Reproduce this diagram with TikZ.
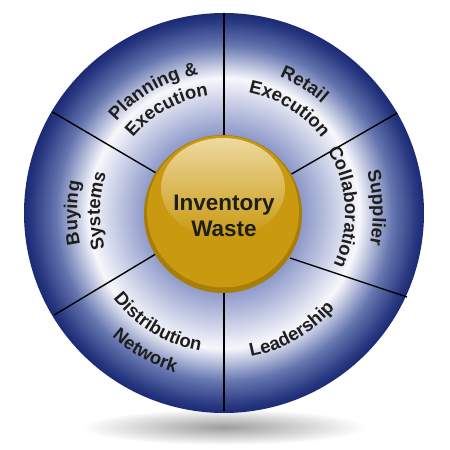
\documentclass[tikz,border=0pt]{standalone}
\usepackage{fontspec}
\setmainfont{Liberation Sans}
\usetikzlibrary{decorations.text,calc}
\definecolor{ringin}{HTML}{8E9ACA}
\definecolor{ringwhite}{HTML}{F7F8FC}
\definecolor{ringmid}{HTML}{6676B0}
\definecolor{ringdark}{HTML}{25357E}
\definecolor{ringedge}{HTML}{1A2A74}
\definecolor{golddark}{HTML}{A87D08}
\definecolor{goldmain}{HTML}{C9990F}
\definecolor{goldlight}{HTML}{EDD9A0}
\definecolor{txtc}{HTML}{1E1E1E}
\pgfdeclareradialshading{ringshade}{\pgfpoint{0bp}{0bp}}{color(0bp)=(ringin); color(9.9bp)=(ringin); color(16.9bp)=(ringwhite); color(21bp)=(ringmid); color(24.2bp)=(ringdark); color(25bp)=(ringedge); color(50bp)=(ringedge)}
\newcommand{\lblfont}{\fontsize{18.5}{22}\selectfont\bfseries}
\tikzset{
  divider/.style={line width=1.4pt, black},
  lbltext/.style={decorate, decoration={text along path, text align=center, text color=txtc, text={|\lblfont|#1}}}
}
\begin{document}
\begin{tikzpicture}[x=1pt,y=1pt]
\useasboundingbox[fill=white] (0,0) rectangle (450,450);
\coordinate (C) at (224,237);
\coordinate (G) at (223,236);
% shadow
\shade[inner color=black!38, outer color=white] (224,23) ellipse [x radius=142, y radius=18];
% ring
\shade[shading=ringshade] (C) circle [radius=200];
% dividers
\coordinate (d1a) at ($(C)+(90:78)$);   \coordinate (d1b) at ($(C)+(90:200)$);
\coordinate (d2a) at ($(C)+(30:78)$);   \coordinate (d2b) at ($(C)+(30:200)$);
\coordinate (d3a) at (290,192);         \coordinate (d3b) at (407,153);
\coordinate (d4a) at ($(C)+(270:78)$);  \coordinate (d4b) at ($(C)+(270:198)$);
\coordinate (d5a) at ($(C)+(211:78)$);  \coordinate (d5b) at ($(C)+(211:198)$);
\coordinate (d6a) at ($(C)+(149.5:78)$);\coordinate (d6b) at ($(C)+(149.5:199)$);
\draw[divider] (d1a) -- (d1b);
\draw[divider] (d2a) -- (d2b);
\draw[divider] (d3a) -- (d3b);
\draw[divider] (d4a) -- (d4b);
\draw[divider] (d5a) -- (d5b);
\draw[divider] (d6a) -- (d6b);
% gold ball
\fill[golddark] (G) circle [radius=79];
\fill[goldmain] ($(G)+(0,2.5)$) circle [radius=76];
\shade[top color=goldlight, bottom color=goldmain] ($(G)+(0,26)$) ellipse [x radius=62, y radius=50];
\node[font=\fontsize{22.5}{26}\selectfont\bfseries, text=txtc, align=center] (center) at (224,234) {Inventory\\Waste};
% labels (top and sides: clockwise, tops outward)
\path[lbltext={Planning {\&}}] ($(C)+(165:141)$) arc [start angle=165, end angle=75, radius=141];
\path[lbltext={Execution}] ($(C)+(164:118)$) arc [start angle=164, end angle=74, radius=118];
\path[lbltext={Retail}] ($(C)+(103:147)$) arc [start angle=103, end angle=13, radius=147];
\path[lbltext={Execution}] ($(C)+(103:123)$) arc [start angle=103, end angle=13, radius=123];
\path[lbltext={Supplier}] ($(C)+(47:149)$) arc [start angle=47, end angle=-43, radius=149];
\path[lbltext={Collaboration}] ($(C)+(48:121)$) arc [start angle=48, end angle=-42, radius=121];
\path[lbltext={Buying}] ($(C)+(225:147)$) arc [start angle=225, end angle=135, radius=147];
\path[lbltext={Systems}] ($(C)+(224:124)$) arc [start angle=224, end angle=134, radius=124];
% bottom labels: counterclockwise, tops inward
\path[lbltext={Leadership}] ($(C)+(-105:146)$) arc [start angle=-105, end angle=-15, radius=146];
\path[lbltext={Distribution}] ($(C)+(194:140)$) arc [start angle=194, end angle=284, radius=140];
\path[lbltext={Network}] ($(C)+(195.4:167)$) arc [start angle=195.4, end angle=285.4, radius=167];
\end{tikzpicture}
\end{document}
